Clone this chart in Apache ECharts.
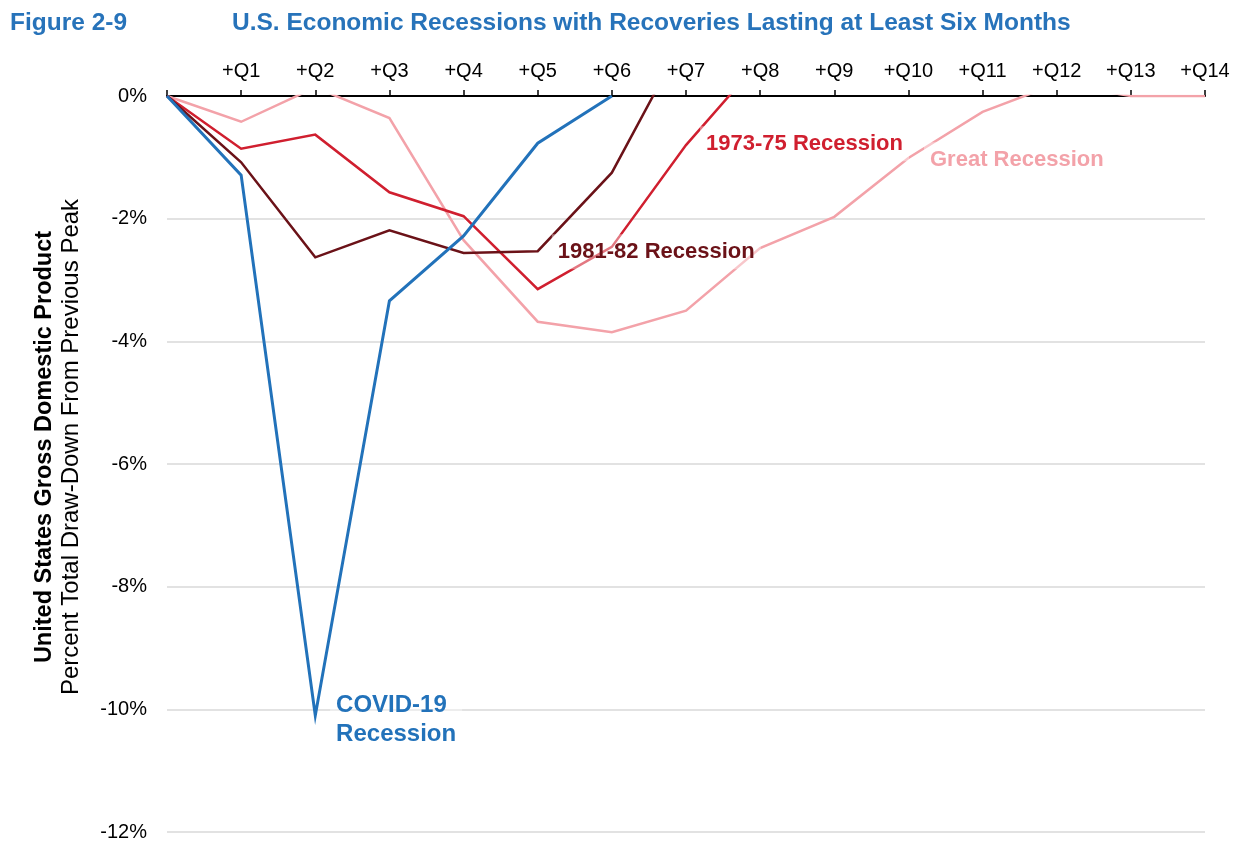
<!DOCTYPE html>
<html>
<head>
<meta charset="utf-8">
<title>U.S. Economic Recessions with Recoveries Lasting at Least Six Months</title>
<script src="https://cdn.jsdelivr.net/npm/echarts@6/dist/echarts.min.js"></script>
<style>
  html, body { margin: 0; padding: 0; background: #ffffff; }
  #chart { width: 1243px; height: 843px; }
</style>
</head>
<body>
<div id="chart"></div>
<script>
// Quarter tick labels along the top axis (index = quarters after the previous peak)
const quarterLabels = ['', '+Q1', '+Q2', '+Q3', '+Q4', '+Q5', '+Q6', '+Q7',
  '+Q8', '+Q9', '+Q10', '+Q11', '+Q12', '+Q13', '+Q14'];

// Percent draw-down of real GDP from the previous peak, by quarter
const recession1973 = [0, -0.86, -0.63, -1.57, -1.96, -3.15, -2.46, -0.80, 0.58];
const recession1981 = [0, -1.08, -2.63, -2.19, -2.56, -2.53, -1.25, 1.00];
const greatRecession = [0, -0.42, 0.14, -0.36, -2.35, -3.68, -3.85, -3.50,
  -2.48, -1.97, -1.01, -0.26, 0.20, 0, 0];
const covidRecession = [0, -1.29, -10.10, -3.34, -2.28, -0.77, 0];

// Y-axis ticks (percent)
const yMin = -12, yMax = 0, yStep = 2;

const FONT = '"Liberation Sans", Arial, sans-serif';
const COLORS = {
  title: '#2773ba',
  r1973: '#d01f2f',
  r1981: '#6b1218',
  great: '#f3a2a9',
  covid: '#2272ba'
};

function toPairs(arr) {
  return arr.map((v, i) => [i, v]);
}

// Annotation placed at a data coordinate, drawn with a faint backing box
function annotation(text, x, y, color, size) {
  return {
    symbol: 'circle',
    symbolSize: 0,
    itemStyle: { color: 'rgba(0,0,0,0)' },
    label: {
      show: true,
      position: 'right',
      distance: 0,
      formatter: text,
      color: color,
      fontFamily: FONT,
      fontWeight: 'bold',
      fontSize: size || 22,
      lineHeight: 29,
      backgroundColor: 'rgba(255,255,255,0.4)',
      padding: [3, 6]
    },
    data: [{ coord: [x, y] }]
  };
}

function lineSeries(name, values, color, width, mark) {
  return {
    name: name,
    type: 'line',
    data: toPairs(values),
    symbol: 'none',
    clip: true,
    lineStyle: { color: color, width: width, join: 'miter' },
    itemStyle: { color: color },
    markPoint: mark,
    animation: false
  };
}

const chart = echarts.init(document.getElementById('chart'), null, { renderer: 'canvas' });

chart.setOption({
  backgroundColor: '#ffffff',
  animation: false,
  title: [
    {
      text: 'Figure 2-9',
      left: 5, top: 6,
      textStyle: { color: COLORS.title, fontFamily: FONT, fontWeight: 'bold', fontSize: 24.5 }
    },
    {
      text: 'U.S. Economic Recessions with Recoveries Lasting at Least Six Months',
      left: 227, top: 6,
      textStyle: { color: COLORS.title, fontFamily: FONT, fontWeight: 'bold', fontSize: 24.5 }
    }
  ],
  grid: { left: 167, right: 38, top: 96, bottom: 11, containLabel: false },
  xAxis: {
    type: 'value',
    position: 'top',
    min: 0, max: quarterLabels.length - 1, interval: 1,
    axisLine: { show: true, onZero: false, lineStyle: { color: '#000', width: 2 } },
    axisTick: { show: true, length: 6, lineStyle: { color: '#000', width: 1.5 } },
    splitLine: { show: false },
    axisLabel: {
      margin: 15,
      color: '#000',
      fontFamily: FONT,
      fontSize: 20,
      formatter: v => quarterLabels[v] || ''
    }
  },
  yAxis: {
    type: 'value',
    min: yMin, max: yMax, interval: yStep,
    axisLine: { show: false },
    axisTick: { show: false },
    splitLine: { show: true, lineStyle: { color: '#d9d9d9', width: 1.5 } },
    axisLabel: {
      margin: 20,
      color: '#000',
      fontFamily: FONT,
      fontSize: 20,
      formatter: v => v + '%'
    },
    name: '{b|United States Gross Domestic Product}\n{n|Percent Total Draw-Down From Previous Peak}',
    nameLocation: 'middle',
    nameRotate: 90,
    nameGap: 82,
    nameTextStyle: {
      align: 'center',
      padding: [0, 0, 0, 34],
      rich: {
        b: { fontFamily: FONT, fontWeight: 'bold', fontSize: 23.5, color: '#000', lineHeight: 27 },
        n: { fontFamily: FONT, fontSize: 24, color: '#000', lineHeight: 27 }
      }
    }
  },
  series: [
    lineSeries('Great Recession', greatRecession, COLORS.great, 2.5,
      annotation('Great Recession', 10.21, -1.04, COLORS.great)),
    lineSeries('1973-75 Recession', recession1973, COLORS.r1973, 2.5,
      annotation('1973-75 Recession', 7.19, -0.78, COLORS.r1973)),
    lineSeries('1981-82 Recession', recession1981, COLORS.r1981, 2.5,
      annotation('1981-82 Recession', 5.19, -2.54, COLORS.r1981)),
    lineSeries('COVID-19 Recession', covidRecession, COLORS.covid, 3,
      annotation('COVID-19\nRecession', 2.20, -10.17, COLORS.covid, 24))
  ]
});
</script>
</body>
</html>
